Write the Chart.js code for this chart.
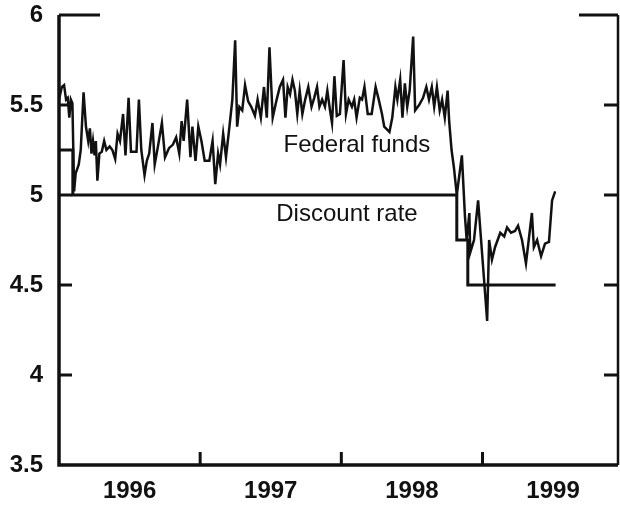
<!DOCTYPE html>
<html>
<head>
<meta charset="utf-8">
<script src="https://cdn.jsdelivr.net/npm/chart.js@4/dist/chart.umd.min.js"></script>
<style>
  html, body { margin: 0; padding: 0; background: #fff; }
  #wrap { width: 620px; height: 506px; }
</style>
</head>
<body>
<div id="wrap"><canvas id="rateChart" width="620" height="506"></canvas></div>
<script>
// Federal funds rate (weekly-ish readings), x in decimal years
const fedDates = [
  1996.000, 1996.020, 1996.036, 1996.050, 1996.062, 1996.073, 1996.084, 1996.095, 1996.107, 1996.118,
  1996.140, 1996.154, 1996.174, 1996.191, 1996.207, 1996.219, 1996.230, 1996.241, 1996.252, 1996.261,
  1996.272, 1996.286, 1996.303, 1996.320, 1996.336, 1996.359, 1996.378, 1996.398, 1996.415, 1996.432,
  1996.454, 1996.471, 1996.493, 1996.510, 1996.533, 1996.549, 1996.566, 1996.583, 1996.606, 1996.622,
  1996.639, 1996.662, 1996.678, 1996.701, 1996.729, 1996.751, 1996.779, 1996.807, 1996.830, 1996.852,
  1996.869, 1996.883, 1996.908, 1996.931, 1996.945, 1996.967, 1996.987, 1997.009, 1997.032, 1997.065,
  1997.088, 1997.107, 1997.127, 1997.141, 1997.163, 1997.183, 1997.206, 1997.228, 1997.248, 1997.262,
  1997.278, 1997.298, 1997.318, 1997.340, 1997.362, 1997.388, 1997.407, 1997.430, 1997.452, 1997.472,
  1997.491, 1997.514, 1997.542, 1997.564, 1997.587, 1997.604, 1997.620, 1997.637, 1997.654, 1997.671,
  1997.688, 1997.705, 1997.724, 1997.744, 1997.766, 1997.789, 1997.808, 1997.828, 1997.845, 1997.864,
  1997.884, 1997.901, 1997.920, 1997.934, 1997.951, 1997.968, 1997.990, 1998.016, 1998.033, 1998.052,
  1998.075, 1998.091, 1998.108, 1998.131, 1998.147, 1998.164, 1998.187, 1998.215, 1998.243, 1998.265,
  1998.288, 1998.304, 1998.341, 1998.361, 1998.383, 1998.397, 1998.417, 1998.433, 1998.450, 1998.467,
  1998.484, 1998.509, 1998.523, 1998.551, 1998.579, 1998.602, 1998.621, 1998.641, 1998.658, 1998.677,
  1998.697, 1998.714, 1998.733, 1998.753, 1998.764, 1998.781, 1998.798, 1998.818, 1998.854, 1998.876,
  1998.888, 1998.907, 1998.913, 1998.940, 1998.969, 1999.033, 1999.047, 1999.067, 1999.089, 1999.126,
  1999.154, 1999.174, 1999.202, 1999.230, 1999.252, 1999.280, 1999.308, 1999.350, 1999.364, 1999.387,
  1999.415, 1999.443, 1999.471, 1999.493, 1999.515
];
const fedRates = [
  5.53, 5.60, 5.61, 5.53, 5.54, 5.43, 5.53, 5.51, 5.02, 5.12,
  5.17, 5.25, 5.57, 5.38, 5.30, 5.37, 5.23, 5.30, 5.22, 5.30,
  5.08, 5.23, 5.24, 5.30, 5.25, 5.27, 5.25, 5.20, 5.34, 5.30,
  5.45, 5.22, 5.54, 5.24, 5.24, 5.24, 5.53, 5.25, 5.11, 5.19,
  5.23, 5.40, 5.17, 5.27, 5.40, 5.21, 5.26, 5.28, 5.32, 5.23,
  5.41, 5.30, 5.53, 5.21, 5.38, 5.19, 5.38, 5.30, 5.19, 5.19,
  5.30, 5.06, 5.23, 5.17, 5.34, 5.21, 5.37, 5.53, 5.86, 5.38,
  5.49, 5.47, 5.61, 5.52, 5.49, 5.44, 5.53, 5.43, 5.60, 5.43,
  5.82, 5.43, 5.53, 5.60, 5.64, 5.43, 5.60, 5.56, 5.64, 5.58,
  5.45, 5.58, 5.45, 5.53, 5.60, 5.49, 5.54, 5.60, 5.49, 5.53,
  5.49, 5.58, 5.47, 5.40, 5.66, 5.44, 5.45, 5.75, 5.45, 5.53,
  5.49, 5.53, 5.43, 5.54, 5.53, 5.60, 5.45, 5.45, 5.60, 5.53,
  5.45, 5.38, 5.35, 5.43, 5.60, 5.53, 5.64, 5.43, 5.62, 5.49,
  5.58, 5.88, 5.47, 5.50, 5.54, 5.60, 5.53, 5.60, 5.49, 5.60,
  5.47, 5.53, 5.43, 5.58, 5.41, 5.25, 5.15, 5.00, 5.22, 4.88,
  4.75, 4.90, 4.68, 4.75, 4.97, 4.30, 4.75, 4.64, 4.71, 4.79,
  4.77, 4.82, 4.79, 4.80, 4.83, 4.75, 4.62, 4.90, 4.71, 4.75,
  4.66, 4.73, 4.74, 4.97, 5.02
];

// Discount rate, changes at each date (stepped)
const discountDates = [1996.000, 1996.098, 1998.818, 1998.896, 1999.518];
const discountRates = [5.25, 5.00, 4.75, 4.50, 4.50];

// axis labels
const yearLabels = ['1996', '1997', '1998', '1999'];
const yearLabelPos = [1996.5, 1997.5, 1998.5, 1999.5];
const yearTicks = [1997, 1998, 1999];
const rateTicks = [3.5, 4, 4.5, 5, 5.5, 6];

const toPoints = (xs, ys) => xs.map((x, i) => ({ x: x, y: ys[i] }));

const FONT = '"Liberation Sans", Arial, Helvetica, sans-serif';
const INK = '#111';

// axes + inward tick marks like the printed chart
const framePlugin = {
    id: 'frame',
    afterDraw(chart) {
        const { ctx, chartArea: a, scales } = chart;
        const x = scales.x, y = scales.y;
        ctx.save();
        ctx.strokeStyle = INK;
        ctx.lineCap = 'butt';

        ctx.lineWidth = 3.5;
        ctx.beginPath();
        ctx.moveTo(a.left, a.top);
        ctx.lineTo(a.left, a.bottom);
        ctx.lineTo(a.right, a.bottom);
        ctx.stroke();

        ctx.lineWidth = 2.5;
        ctx.beginPath();
        ctx.moveTo(a.right, a.top);
        ctx.lineTo(a.right, a.bottom);
        ctx.stroke();

        ctx.lineWidth = 3;
        rateTicks.forEach(v => {
            if (v === 3.5) return;
            const py = y.getPixelForValue(v);
            const lenL = v === 6 ? 41 : 13;
            const lenR = v === 6 ? 39 : 14;
            ctx.beginPath();
            ctx.moveTo(a.left, py);
            ctx.lineTo(a.left + lenL, py);
            ctx.moveTo(a.right, py);
            ctx.lineTo(a.right - lenR, py);
            ctx.stroke();
        });

        yearTicks.forEach(v => {
            const px = x.getPixelForValue(v);
            ctx.beginPath();
            ctx.moveTo(px, a.bottom);
            ctx.lineTo(px, a.bottom - 13);
            ctx.stroke();
        });

        ctx.fillStyle = INK;
        ctx.font = '24px ' + FONT;
        ctx.textAlign = 'center';
        ctx.textBaseline = 'middle';
        ctx.fillText('Federal funds', x.getPixelForValue(1998.11), y.getPixelForValue(5.275));
        ctx.fillText('Discount rate', x.getPixelForValue(1998.04), y.getPixelForValue(4.89));
        ctx.restore();
    }
};

new Chart(document.getElementById('rateChart').getContext('2d'), {
    type: 'line',
    data: {
        datasets: [{
            label: 'Federal funds',
            data: toPoints(fedDates, fedRates),
            borderColor: INK,
            borderWidth: 2.5,
            pointRadius: 0,
            tension: 0,
            fill: false
        }, {
            label: 'Discount rate',
            data: toPoints(discountDates, discountRates),
            borderColor: INK,
            borderWidth: 3,
            pointRadius: 0,
            stepped: 'before',
            fill: false
        }]
    },
    options: {
        responsive: false,
        devicePixelRatio: 1,
        animation: false,
        layout: { padding: { top: 15, right: 2, left: 0, bottom: 0 } },
        plugins: {
            legend: { display: false },
            tooltip: { enabled: false }
        },
        scales: {
            x: {
                type: 'linear',
                min: 1996,
                max: 1999.96,
                grid: { display: false, drawTicks: false },
                border: { display: false },
                afterBuildTicks: s => { s.ticks = yearLabelPos.map(v => ({ value: v })); },
                afterFit: s => { s.height = 41; s.paddingLeft = 0; s.paddingRight = 0; },
                ticks: {
                    autoSkip: false,
                    maxRotation: 0,
                    padding: 12,
                    color: INK,
                    font: { family: FONT, size: 24, weight: 'bold' },
                    callback: (v) => yearLabels[yearLabelPos.indexOf(v)]
                }
            },
            y: {
                min: 3.5,
                max: 6,
                grid: { display: false, drawTicks: false },
                border: { display: false },
                afterBuildTicks: s => { s.ticks = rateTicks.map(v => ({ value: v })); },
                afterFit: s => { s.width = 59; s.paddingTop = 0; s.paddingBottom = 0; },
                ticks: {
                    padding: 16,
                    color: INK,
                    font: { family: FONT, size: 24, weight: 'bold' },
                    callback: (v) => String(v)
                }
            }
        }
    },
    plugins: [framePlugin]
});
</script>
</body>
</html>
